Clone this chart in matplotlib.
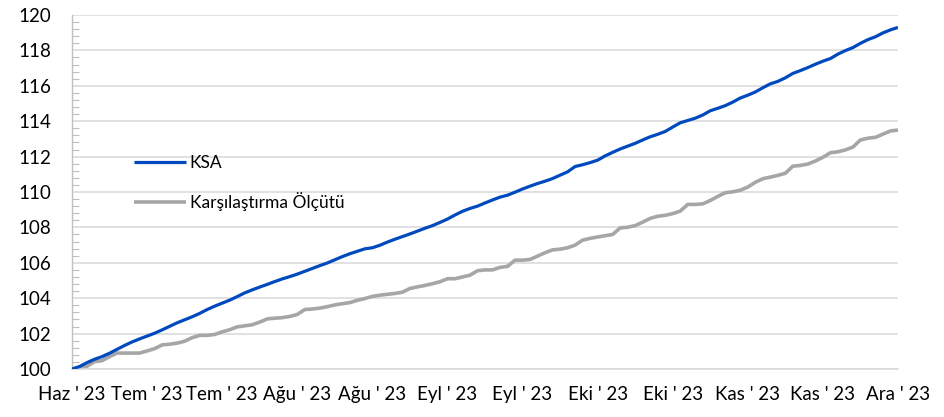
import matplotlib
matplotlib.use("Agg")
import matplotlib.pyplot as plt
from matplotlib.ticker import MultipleLocator, FixedLocator

plt.rcParams['font.family'] = ['Lato', 'DejaVu Sans']

tick_labels = ["Haz ' 23", "Tem ' 23", "Tem ' 23", "Ağu ' 23", "Ağu ' 23", "Eyl ' 23",
               "Eyl ' 23", "Eki ' 23", "Eki ' 23", "Kas ' 23", "Kas ' 23", "Ara ' 23"]

ksa = [100.00, 100.14, 100.36, 100.55, 100.70, 100.89, 101.11, 101.33, 101.53, 101.70,
       101.86, 102.02, 102.21, 102.41, 102.61, 102.78, 102.95, 103.14, 103.36, 103.55,
       103.72, 103.89, 104.09, 104.30, 104.47, 104.63, 104.78, 104.94, 105.09, 105.22,
       105.36, 105.52, 105.68, 105.84, 105.99, 106.17, 106.35, 106.51, 106.65, 106.79,
       106.85, 106.99, 107.17, 107.33, 107.48, 107.63, 107.79, 107.95, 108.10, 108.28,
       108.47, 108.70, 108.91, 109.07, 109.20, 109.38, 109.55, 109.71, 109.82, 109.99,
       110.17, 110.33, 110.48, 110.61, 110.76, 110.95, 111.14, 111.44, 111.54, 111.66,
       111.80, 112.04, 112.24, 112.43, 112.59, 112.75, 112.94, 113.12, 113.26, 113.42,
       113.67, 113.91, 114.04, 114.17, 114.35, 114.59, 114.73, 114.88, 115.08, 115.31,
       115.47, 115.65, 115.89, 116.11, 116.25, 116.45, 116.70, 116.86, 117.03, 117.22,
       117.39, 117.54, 117.79, 117.99, 118.16, 118.40, 118.61, 118.77, 118.99, 119.16,
       119.30]

benchmark = [100.00, 100.07, 100.15, 100.42, 100.47, 100.70, 100.90, 100.90, 100.90, 100.90,
             101.02, 101.15, 101.36, 101.40, 101.46, 101.57, 101.77, 101.90, 101.90, 101.95,
             102.10, 102.22, 102.38, 102.44, 102.50, 102.65, 102.83, 102.87, 102.90, 102.97,
             103.08, 103.36, 103.39, 103.44, 103.52, 103.62, 103.69, 103.75, 103.88, 103.98,
             104.10, 104.17, 104.22, 104.27, 104.34, 104.55, 104.64, 104.72, 104.82, 104.93,
             105.10, 105.10, 105.20, 105.30, 105.55, 105.60, 105.60, 105.74, 105.80, 106.15,
             106.15, 106.19, 106.38, 106.57, 106.73, 106.77, 106.85, 107.00, 107.28, 107.38,
             107.46, 107.53, 107.60, 107.97, 108.01, 108.10, 108.30, 108.51, 108.63, 108.68,
             108.78, 108.92, 109.30, 109.30, 109.33, 109.52, 109.75, 109.96, 110.01, 110.10,
             110.28, 110.55, 110.75, 110.84, 110.94, 111.06, 111.46, 111.50, 111.58, 111.75,
             111.96, 112.22, 112.27, 112.38, 112.54, 112.94, 113.04, 113.09, 113.27, 113.45,
             113.50]

series_names = ["KSA", "Karşılaştırma Ölçütü"]

x = list(range(len(ksa)))
step = (len(ksa) - 1) // (len(tick_labels) - 1)
tick_pos = [i * step for i in range(len(tick_labels))]

fig = plt.figure(figsize=(9.44, 4.17), dpi=100)
ax = fig.add_axes([72/944, 1-369/417, 826/944, 354/417])

ax.plot(x, ksa, color='#0049BE', lw=2.3, label=series_names[0], solid_capstyle='butt', zorder=3)
ax.plot(x, benchmark, color='#A6A6A6', lw=2.6, label=series_names[1], solid_capstyle='butt', zorder=2)

ax.set_xlim(0, len(ksa) - 1)
ax.set_ylim(100, 120)
ax.yaxis.set_major_locator(MultipleLocator(2))
ax.yaxis.set_minor_locator(MultipleLocator(0.4))
ax.xaxis.set_major_locator(FixedLocator(tick_pos))
ax.set_xticklabels(tick_labels)

ax.grid(axis='y', which='major', color='#D9D9D9', lw=1.1)
ax.set_axisbelow(True)

for s in ['top', 'right']:
    ax.spines[s].set_visible(False)
ax.spines['bottom'].set_color('#D9D9D9')
ax.spines['bottom'].set_linewidth(1.1)
ax.spines['left'].set_color('#BFBFBF')
ax.spines['left'].set_linewidth(1.0)

ax.tick_params(axis='y', which='major', length=0, pad=15, labelsize=13.5, labelcolor='black')
ax.tick_params(axis='y', which='minor', direction='in', length=5, width=0.8, color='#BFBFBF')
ax.tick_params(axis='x', which='major', length=0, pad=12, labelsize=13.5, labelcolor='black')

leg = ax.legend(loc='upper left', bbox_to_anchor=(0.075, 0.605), frameon=False,
                borderpad=0, borderaxespad=0, handlelength=3.0, handletextpad=0.2,
                labelspacing=1.2, fontsize=12.5)

fig.savefig('out.png', dpi=100)
